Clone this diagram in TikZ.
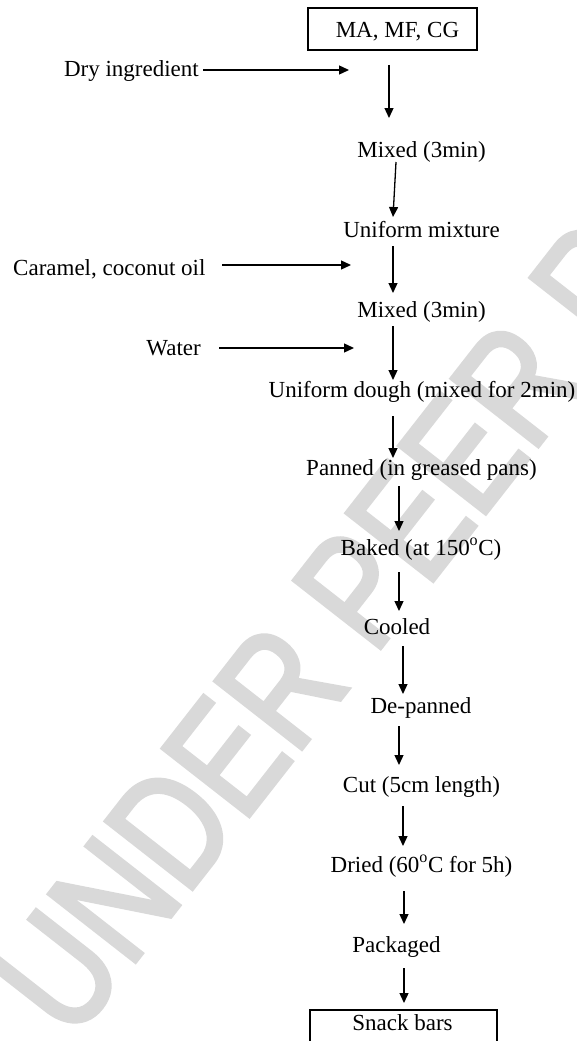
\documentclass[tikz,border=0pt]{standalone}
\usepackage{fontspec}
\setmainfont{Liberation Serif}
\newfontfamily\wmfont[FakeBold=2.5,FakeStretch=0.8]{Liberation Sans}
\usetikzlibrary{arrows.meta}
\begin{document}
\begin{tikzpicture}[x=1pt,y=-1pt,
  lbl/.style={inner sep=0pt, font=\fontsize{23}{27}\selectfont, anchor=base},
  flow/.style={line width=1.3pt, -{Triangle[length=10pt,width=9pt]}},
  boxd/.style={draw, line width=1.2pt, inner sep=0pt},
  wmark/.style={rotate=52, anchor=base west, text=black!15, inner sep=0pt,
    font=\wmfont\fontsize{160}{160}\selectfont}]
\useasboundingbox (0,0) rectangle (577,1041);
\clip (0,0) rectangle (577,1041);
% watermark
\node[wmark] (wm) at (72,1043) {UNDER PEER REVIEW};
% boxes
\node[boxd, minimum width=169pt, minimum height=42pt] (topbox) at (392.5,29) {};
\node[lbl] (toptext) at (397.5,38) {MA, MF, CG};
\node[boxd, minimum width=187pt, minimum height=50pt] (snackbox) at (403.5,1035) {};
\node[lbl] (snack) at (402.5,1030) {Snack bars};
% side inputs
\node[lbl, anchor=base east] (dry) at (199,77) {Dry ingredient};
\node[lbl, anchor=base west] (caramel) at (13,275) {Caramel, coconut oil};
\node[lbl, anchor=base east] (water) at (201,355) {Water};
% main steps
\node[lbl] (mix1) at (421.5,157) {Mixed (3min)};
\node[lbl] (unimix) at (421.5,237) {Uniform mixture};
\node[lbl] (mix2) at (421.5,317) {Mixed (3min)};
\node[lbl] (dough) at (422,397) {Uniform dough (mixed for 2min)};
\node[lbl] (panned) at (421.5,475) {Panned (in greased pans)};
\node[lbl] (baked) at (421,555) {Baked (at 150\textsuperscript{o}C)};
\node[lbl] (cooled) at (397,634) {Cooled};
\node[lbl] (depanned) at (421,713) {De-panned};
\node[lbl] (cut) at (421.5,792) {Cut (5cm length)};
\node[lbl] (dried) at (421.5,872) {Dried (60\textsuperscript{o}C for 5h)};
\node[lbl] (pack) at (396.5,952) {Packaged};
% arrow end points
\coordinate (d1) at (203,70);   \coordinate (d2) at (349,70);
\coordinate (c1) at (222,265);  \coordinate (c2) at (351,265);
\coordinate (w1) at (219,348);  \coordinate (w2) at (354,348);
\coordinate (a1s) at (389,65);  \coordinate (a1e) at (389,118);
\coordinate (a2s) at (396,162); \coordinate (a2e) at (393,217);
\coordinate (a3s) at (393,246); \coordinate (a3e) at (393,293);
\coordinate (a4s) at (393,326); \coordinate (a4e) at (393,380);
\coordinate (a5s) at (393,416); \coordinate (a5e) at (393,458);
\coordinate (a6s) at (399,486); \coordinate (a6e) at (399,531);
\coordinate (a7s) at (399,572); \coordinate (a7e) at (399,611);
\coordinate (a8s) at (403,646); \coordinate (a8e) at (403,694);
\coordinate (a9s) at (399,726); \coordinate (a9e) at (399,765);
\coordinate (a10s) at (403,806); \coordinate (a10e) at (403,846);
\coordinate (a11s) at (404,891); \coordinate (a11e) at (404,924);
\coordinate (a12s) at (404,968); \coordinate (a12e) at (404,1003);
% connectors
\draw[flow] (d1) -- (d2);
\draw[flow] (c1) -- (c2);
\draw[flow] (w1) -- (w2);
\draw[flow] (a1s) -- (a1e);
\draw[flow] (a2s) -- (a2e);
\draw[flow] (a3s) -- (a3e);
\draw[flow] (a4s) -- (a4e);
\draw[flow] (a5s) -- (a5e);
\draw[flow] (a6s) -- (a6e);
\draw[flow] (a7s) -- (a7e);
\draw[flow] (a8s) -- (a8e);
\draw[flow] (a9s) -- (a9e);
\draw[flow] (a10s) -- (a10e);
\draw[flow] (a11s) -- (a11e);
\draw[flow] (a12s) -- (a12e);
\end{tikzpicture}
\end{document}
